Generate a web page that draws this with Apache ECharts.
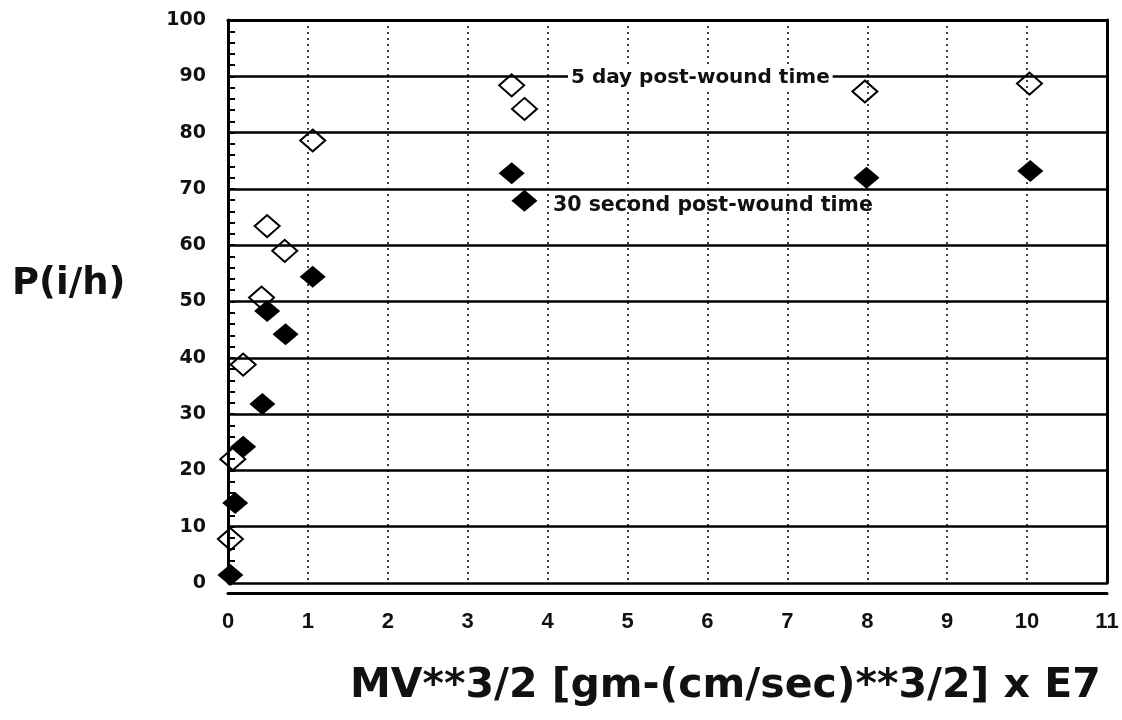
<!DOCTYPE html>
<html>
<head>
<meta charset="utf-8">
<script src="https://cdn.jsdelivr.net/npm/echarts@6/dist/echarts.min.js"></script>
<style>
  html, body { margin: 0; padding: 0; background: #fff; }
  #chart { width: 1122px; height: 720px; }
</style>
</head>
<body>
<div id="chart"></div>
<script>
// 5 day post-wound time (open diamonds)
const dayX = [0.03, 0.06, 0.19, 0.42, 0.49, 0.71, 1.06, 3.55, 3.71, 7.97, 10.03];
const dayY = [7.8, 22, 38.8, 50.7, 63.4, 59, 78.6, 88.4, 84.2, 87.3, 88.7];
// 30 second post-wound time (filled diamonds)
const secX = [0.03, 0.09, 0.19, 0.43, 0.49, 0.72, 1.06, 3.55, 3.71, 7.99, 10.04];
const secY = [1.4, 14.2, 24.2, 31.8, 48.3, 44.2, 54.4, 72.8, 67.9, 72, 73.2];

const font = '"Liberation Sans", Arial, sans-serif';
const heavy = '"DejaVu Sans", sans-serif';

let chart = echarts.init(document.getElementById('chart'));
chart.setOption({
  animation: false,
  grid: { left: 228, right: 15, top: 20, bottom: 137 },
  xAxis: [{
    type: 'value', min: 0, max: 11, interval: 1,
    offset: 10,
    axisLine: { show: true, onZero: false, lineStyle: { color: '#000', width: 3 } },
    axisTick: { show: false },
    axisLabel: { color: '#111', fontFamily: font, fontWeight: 'bold', fontSize: 22, margin: 18 },
    splitLine: { show: true, lineStyle: { color: '#000', type: [2, 4], width: 1.5 } }
  }, {
    type: 'value', min: 0, max: 11, position: 'top',
    axisLine: { show: true, onZero: false, lineStyle: { color: '#000', width: 3 } },
    axisTick: { show: false }, axisLabel: { show: false }, splitLine: { show: false }
  }],
  yAxis: [{
    type: 'value', min: 0, max: 100, interval: 10,
    axisLine: { show: true, onZero: false, lineStyle: { color: '#000', width: 3 } },
    axisTick: { show: true, inside: true, length: 7, lineStyle: { color: '#000', width: 2 } },
    minorTick: { show: true, splitNumber: 5, length: 7, lineStyle: { color: '#000', width: 2 } },
    axisLabel: { color: '#111', fontFamily: heavy, fontWeight: 'bold', fontSize: 19, margin: 22 },
    splitLine: { show: true, lineStyle: { color: '#000', width: 2.5 } }
  }, {
    type: 'value', min: 0, max: 100, position: 'right',
    axisLine: { show: true, onZero: false, lineStyle: { color: '#000', width: 3 } },
    axisTick: { show: false }, axisLabel: { show: false }, splitLine: { show: false }
  }],
  series: [{
    name: '5 day post-wound time',
    type: 'scatter',
    symbol: 'diamond',
    symbolSize: [25, 22],
    itemStyle: { color: 'rgba(255,255,255,0)', borderColor: '#000', borderWidth: 2, opacity: 1 },
    data: dayX.map((x, i) => [x, dayY[i]])
  }, {
    name: '30 second post-wound time',
    type: 'scatter',
    symbol: 'diamond',
    symbolSize: [26, 22],
    itemStyle: { color: '#000', opacity: 1 },
    data: secX.map((x, i) => [x, secY[i]])
  }],
  graphic: [{
    type: 'text', x: 568, y: 78, z: 10,
    style: { text: '5 day post-wound time', font: 'bold 20px ' + heavy, fill: '#111',
      verticalAlign: 'middle', backgroundColor: '#fff', padding: [1, 3] }
  }, {
    type: 'text', x: 553, y: 206, z: 10,
    style: { text: '30 second post-wound time', font: 'bold 20.5px ' + heavy, fill: '#111',
      verticalAlign: 'middle' }
  }, {
    type: 'text', x: 12, y: 284,
    style: { text: 'P(i/h)', font: 'bold 37px ' + heavy, fill: '#111', verticalAlign: 'middle' }
  }, {
    type: 'text', x: 350, y: 686,
    style: { text: 'MV**3/2 [gm-(cm/sec)**3/2] x E7', font: 'bold 41px ' + heavy, fill: '#111',
      verticalAlign: 'middle' }
  }]
});
</script>
</body>
</html>
